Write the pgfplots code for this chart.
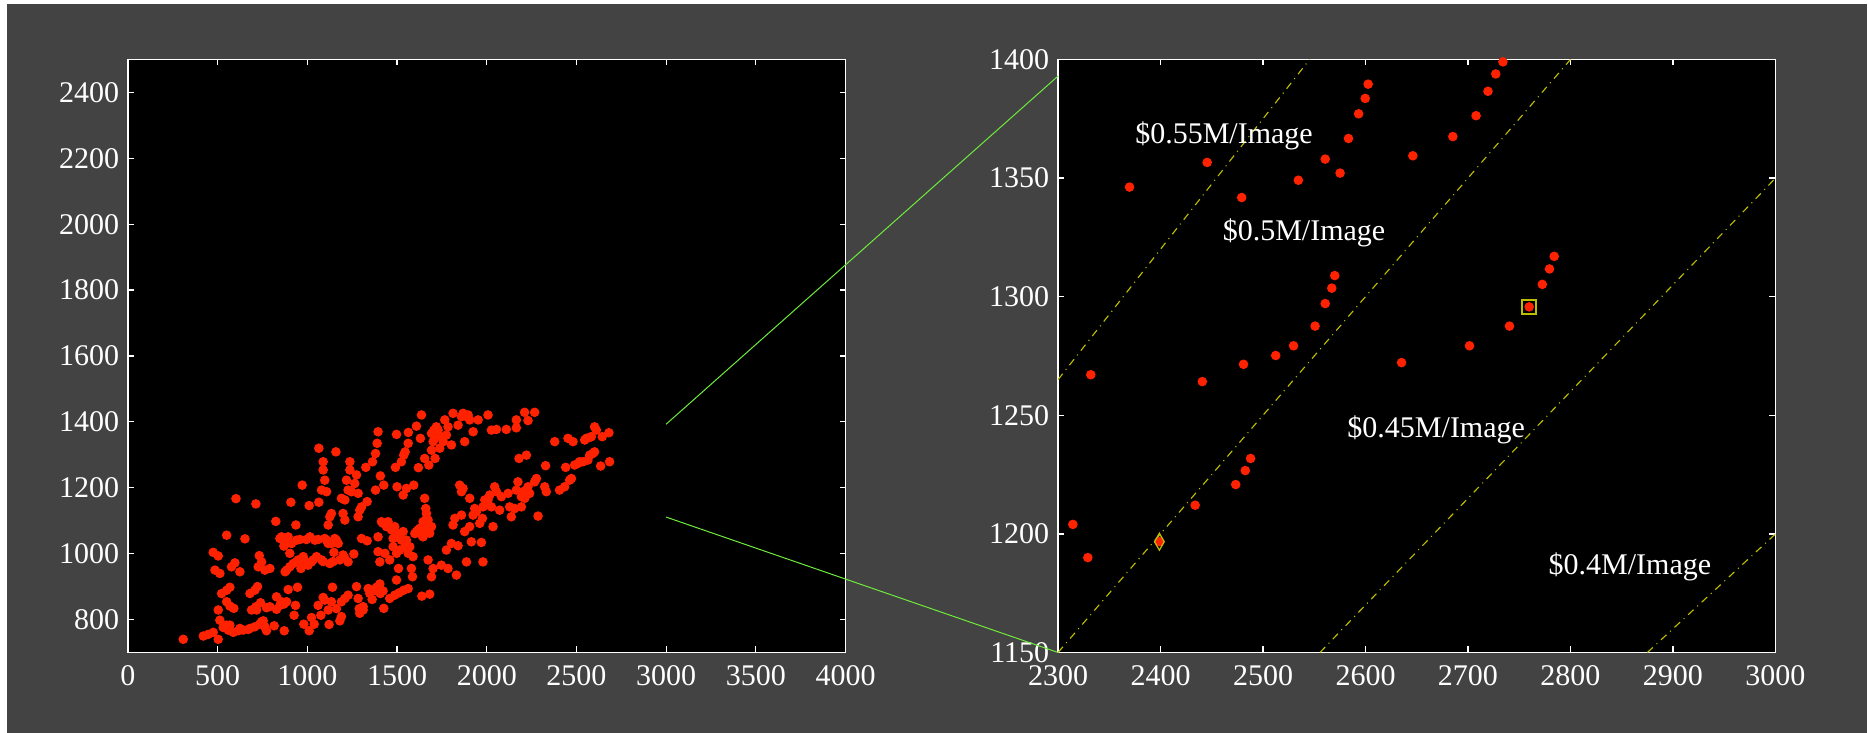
\documentclass[border=0pt]{standalone}
\usepackage{fontspec}
\setmainfont{Liberation Serif}
\usepackage{pgfplots}
\usepackage{pgfplotstable}
\pgfplotsset{compat=1.18}
\definecolor{bg}{RGB}{67,67,67}
\definecolor{dotred}{RGB}{255,34,0}
\definecolor{costline}{RGB}{190,190,0}
\definecolor{zoomgreen}{RGB}{110,235,60}

\pgfplotstableread{
x y
308 740
420 750
447 755
475 761
503 740
512 798
531 776
550 783
559 768
587 761
615 766
642 768
670 770
707 778
735 786
754 796
772 766
763 778
815 781
871 766
926 813
980 786
1010 766
1023 806
1038 786
1075 813
1121 785
1181 796
1190 809
503 829
522 879
550 889
568 898
550 854
568 841
590 834
680 879
707 889
722 900
689 829
713 839
739 851
772 836
791 839
828 831
847 843
869 847
884 854
893 891
934 843
945 898
1060 843
1088 867
1097 859
1116 829
1134 854
1140 898
1162 833
1190 854
1209 864
1227 874
1274 900
1283 864
1289 833
1311 829
1339 894
1348 879
1361 861
1385 898
1404 908
1407 879
1422 887
1426 834
1459 864
1487 874
1497 920
1511 881
1537 889
1562 894
1638 871
1682 877
475 1004
503 993
485 950
512 940
550 1056
577 960
596 972
624 945
652 1045
732 994
726 960
745 975
763 950
791 955
824 1098
847 1046
869 1023
876 945
893 1051
902 1001
912 1031
921 970
936 1087
949 981
964 955
977 991
995 1043
1004 965
1023 975
1042 1041
1051 991
1079 981
1097 1046
1116 1031
1125 970
1148 1004
1153 1046
1172 1031
1181 981
1199 996
1227 975
1259 999
1302 1046
1333 1039
1394 1051
1394 1006
1404 975
1413 1097
1432 1001
1450 1097
1459 981
1478 1046
1487 1082
1497 1001
1508 955
1524 1041
1534 1067
1545 1021
1562 1001
1571 1021
1580 955
1589 991
1586 930
1599 1061
1617 1072
1645 1051
1654 1082
1664 1107
1673 981
1682 1062
1692 930
1701 955
1747 965
1784 955
1831 935
1654 1168
1660 1137
1664 1122
602 1167
713 1151
908 1156
971 1208
1010 1146
1064 1320
1064 1156
1079 1193
1088 1279
1088 1254
1097 1223
1107 1188
1125 1112
1116 1087
1134 1122
1159 1309
1190 1168
1209 1163
1199 1122
1209 1102
1218 1223
1227 1193
1237 1279
1237 1254
1246 1188
1264 1213
1274 1239
1283 1183
1292 1132
1283 1112
1302 1142
1326 1262
1333 1158
1363 1279
1380 1304
1380 1193
1389 1335
1394 1370
1407 1236
1426 1208
1491 1262
1497 1362
1500 1203
1524 1279
1537 1299
1545 1309
1534 1178
1552 1198
1562 1335
1563 1368
1593 1208
1608 1387
1619 1261
1630 1350
1636 1421
1654 1289
1677 1269
1692 1314
1701 1340
1705 1375
1712 1289
1719 1385
1738 1320
1747 1355
1766 1406
1775 1360
1803 1330
1812 1426
1840 1390
1859 1416
1877 1340
1868 1426
1896 1421
1924 1370
1952 1406
2007 1421
2026 1375
2054 1377
2109 1377
2165 1406
2165 1382
2211 1429
2230 1404
2267 1429
1775 1011
1803 1031
1812 1087
1822 1107
1840 1024
1849 1208
1859 1188
1859 1117
1868 1198
1877 1067
1887 975
1905 1168
1905 1082
1914 1036
1924 1117
1933 1137
1942 1127
1961 1092
1970 1034
1976 1107
1979 975
1989 1163
1998 1148
2017 1178
2026 1142
2035 1082
2044 1203
2054 1188
2082 1173
2119 1183
2128 1142
2137 1112
2156 1137
2165 1193
2174 1218
2180 1289
2193 1142
2212 1168
2221 1299
2230 1203
2239 1183
2267 1218
2277 1228
2286 1114
2323 1203
2332 1188
2328 1267
2379 1340
2406 1193
2434 1203
2440 1262
2453 1350
2472 1228
2481 1340
2490 1269
2509 1274
2537 1279
2546 1345
2564 1284
2574 1299
2583 1355
2601 1385
2611 1375
2635 1266
2644 1355
2681 1367
2685 1279
856 1051
884 1031
940 1041
958 1043
1014 1051
1060 1043
1107 1041
1134 1031
1162 1041
902 960
884 950
940 976
986 976
1032 981
1088 976
1144 976
1209 986
1608 1067
1627 1077
1636 1057
1673 1072
1692 1082
1645 1097
1673 1102
1422 1092
1441 1082
1469 1072
1497 1062
1515 1051
1552 1041
1478 1021
1515 1011
1692 1365
1710 1350
1729 1375
1757 1340
1784 1385
1887 1416
1905 1406
1979 1142
2007 1163
2072 1132
2193 1173
2202 1188
2462 1223
2518 1279
2592 1304
2601 1309
2555 1350
2574 1353
568 783
624 773
680 773
744 793
828 869
856 854
717 829
1311 839
1385 887
1292 819
}\leftdata

\pgfplotstableread{
x y
2369.8 1346.2
2445.5 1356.6
2479.2 1341.8
2534.5 1349.1
2560.7 1358.0
2575.2 1352.1
2583.4 1366.7
2593.3 1377.1
2599.7 1383.6
2602.6 1389.6
2646.2 1359.4
2685.2 1367.5
2707.9 1376.3
2719.5 1386.6
2727.1 1393.9
2734.1 1399.0
2314.5 1204.0
2329.1 1190.0
2332.0 1267.1
2398.9 1196.7
2433.8 1212.1
2440.8 1264.2
2473.4 1220.8
2482.7 1226.7
2487.9 1231.8
2481.0 1271.5
2512.4 1275.2
2529.8 1279.3
2550.8 1287.6
2560.7 1297.1
2567.1 1303.6
2570.0 1308.9
2635.2 1272.2
2701.5 1279.3
2740.5 1287.6
2759.7 1295.7
2772.5 1305.2
2779.5 1311.7
2784.1 1317.0
}\rightdata

\pgfplotsset{
  panel/.style={
    scale only axis, width=287pt, height=237.2pt, anchor=south west,
    axis background/.style={fill=black},
    axis line style={white, line width=0.7pt},
    tick style={white, line width=0.5pt},
    major tick length=2.4pt,
    tick align=inside,
    ticklabel style={white, font=\fontsize{12}{14}\selectfont},
    /pgf/number format/assume math mode=true,
    /pgf/number format/1000 sep={},
    xticklabel shift=1.5pt,
  },
  dots/.style={only marks, mark=*, mark size=1.7pt, color=dotred,
    mark options={draw=dotred, fill=dotred}},
}

\begin{document}
\begin{tikzpicture}[font=\fontsize{12}{14}\selectfont]
\fill[white] (0,0) rectangle (747.6pt,293.2pt);
\fill[bg] (2.8pt,0) rectangle (746.8pt,291.6pt);
\useasboundingbox (0,0) rectangle (747.6pt,293.2pt);

\begin{axis}[panel, at={(51.2pt,32.2pt)},
  xmin=0, xmax=4000, ymin=700, ymax=2500,
  xtick={0,500,1000,1500,2000,2500,3000,3500,4000},
  ytick={800,1000,1200,1400,1600,1800,2000,2200,2400}]
\addplot[dots] table[x=x, y=y] {\leftdata};
\coordinate (L1) at (axis cs:3000,1393);
\coordinate (L2) at (axis cs:3000,1111);
\end{axis}

\begin{axis}[panel, at={(423.2pt,32.2pt)},
  xmin=2300, xmax=3000, ymin=1150, ymax=1400,
  xtick={2300,2400,2500,2600,2700,2800,2900,3000},
  ytick={1150,1200,1250,1300,1350,1400}]
\addplot[costline, line width=0.45pt, dash pattern=on 3pt off 2pt on 0.4pt off 2pt]
  coordinates {(2300,1265) (2545.45,1400)};
\addplot[costline, line width=0.45pt, dash pattern=on 3pt off 2pt on 0.4pt off 2pt]
  coordinates {(2300,1150) (2800,1400)};
\addplot[costline, line width=0.45pt, dash pattern=on 3pt off 2pt on 0.4pt off 2pt]
  coordinates {(2555.56,1150) (3000,1350)};
\addplot[costline, line width=0.45pt, dash pattern=on 3pt off 2pt on 0.4pt off 2pt]
  coordinates {(2875,1150) (3000,1200)};
\addplot[dots] table[x=x, y=y] {\rightdata};
\addplot[only marks, mark=diamond, mark size=2.6pt, color=costline,
  mark options={yscale=1.3, line width=0.5pt}] coordinates {(2398.9,1196.7)};
\addplot[only marks, mark=square, mark size=2.8pt, color=costline,
  mark options={line width=0.6pt}] coordinates {(2759.7,1295.7)};
\node[white] at (axis cs:2462,1368) {\$0.55M/Image};
\node[white] at (axis cs:2540,1327) {\$0.5M/Image};
\node[white] at (axis cs:2669,1244) {\$0.45M/Image};
\node[white] at (axis cs:2858,1186) {\$0.4M/Image};
\coordinate (R1) at (axis cs:2300,1393);
\coordinate (R2) at (axis cs:2300,1150);
\end{axis}

\draw[zoomgreen, line width=0.4pt] (L1) -- (R1) (L2) -- (R2);
\end{tikzpicture}
\end{document}
